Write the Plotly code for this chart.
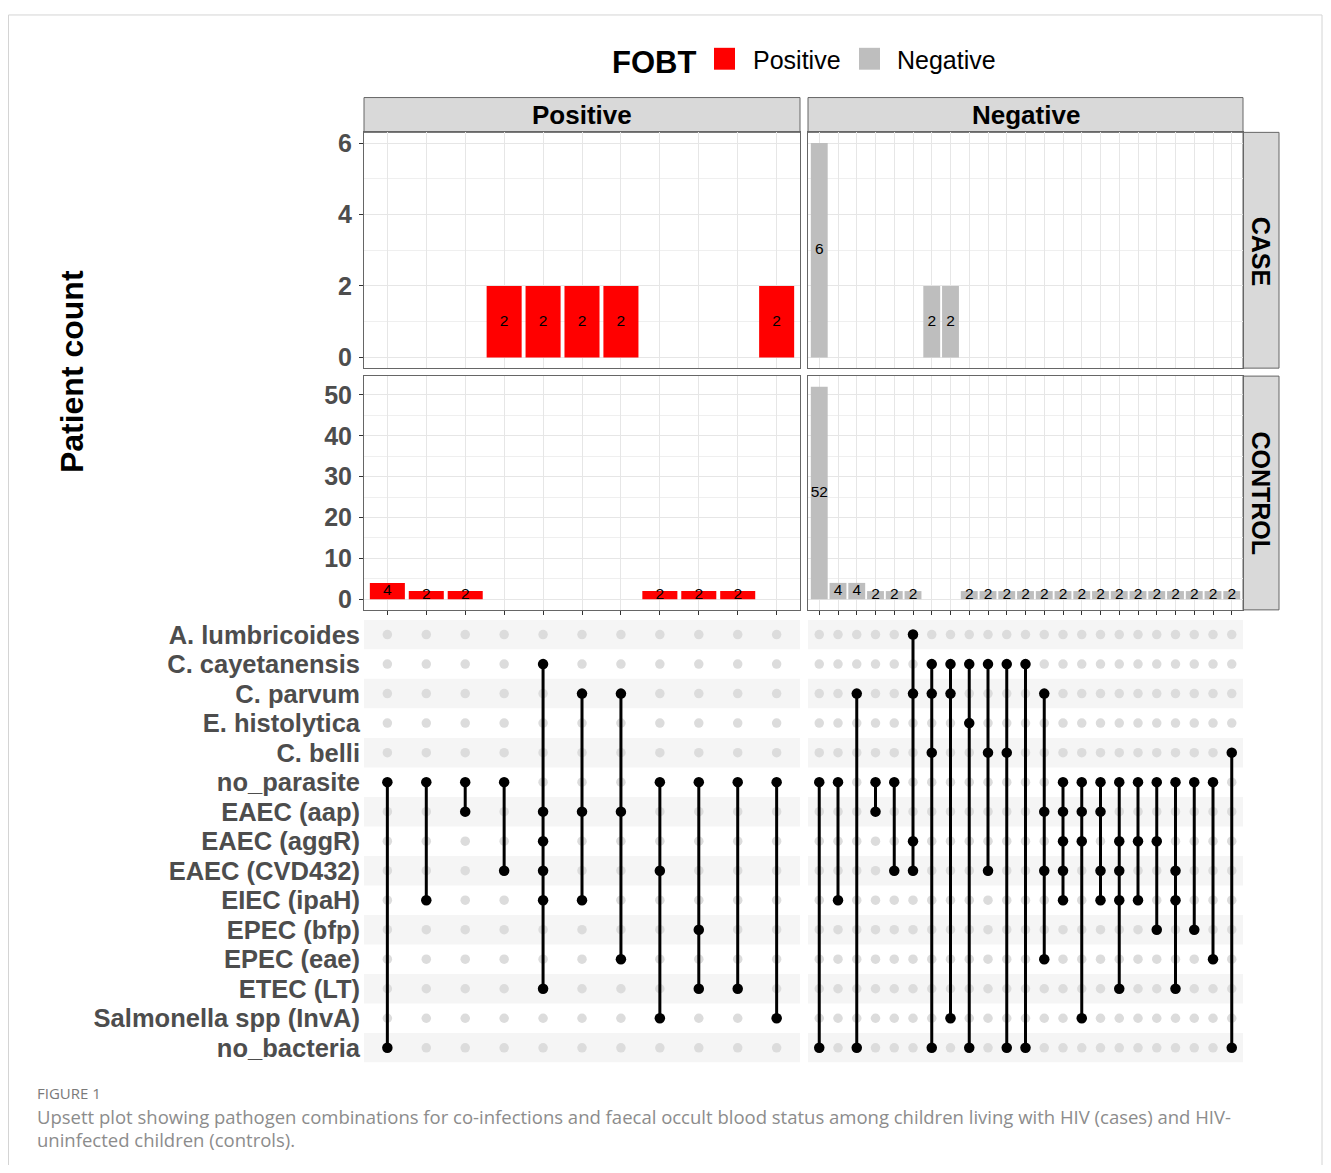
import plotly.graph_objects as go

# ---------------- data ----------------
sets = ["A. lumbricoides", "C. cayetanensis", "C. parvum", "E. histolytica", "C. belli",
        "no_parasite", "EAEC (aap)", "EAEC (aggR)", "EAEC (CVD432)", "EIEC (ipaH)",
        "EPEC (bfp)", "EPEC (eae)", "ETEC (LT)", "Salmonella spp (InvA)", "no_bacteria"]

# FOBT positive: intersections (left to right)
pos_combos = [
    ["no_parasite", "no_bacteria"],
    ["no_parasite", "EIEC (ipaH)"],
    ["no_parasite", "EAEC (aap)"],
    ["no_parasite", "EAEC (CVD432)"],
    ["C. cayetanensis", "EAEC (aap)", "EAEC (aggR)", "EAEC (CVD432)", "EIEC (ipaH)", "ETEC (LT)"],
    ["C. parvum", "EAEC (aap)", "EIEC (ipaH)"],
    ["C. parvum", "EAEC (aap)", "EPEC (eae)"],
    ["no_parasite", "EAEC (CVD432)", "Salmonella spp (InvA)"],
    ["no_parasite", "EPEC (bfp)", "ETEC (LT)"],
    ["no_parasite", "ETEC (LT)"],
    ["no_parasite", "Salmonella spp (InvA)"],
]
pos_case = [0, 0, 0, 2, 2, 2, 2, 0, 0, 0, 2]
pos_control = [4, 2, 2, 0, 0, 0, 0, 2, 2, 2, 0]

# FOBT negative: intersections (left to right)
neg_combos = [
    ["no_parasite", "no_bacteria"],
    ["no_parasite", "EIEC (ipaH)"],
    ["C. parvum", "no_bacteria"],
    ["no_parasite", "EAEC (aap)"],
    ["no_parasite", "EAEC (CVD432)"],
    ["A. lumbricoides", "C. parvum", "EAEC (aggR)", "EAEC (CVD432)"],
    ["C. cayetanensis", "C. parvum", "C. belli", "no_bacteria"],
    ["C. cayetanensis", "C. parvum", "Salmonella spp (InvA)"],
    ["C. cayetanensis", "E. histolytica", "no_bacteria"],
    ["C. cayetanensis", "C. belli", "EAEC (CVD432)"],
    ["C. cayetanensis", "C. belli", "no_bacteria"],
    ["C. cayetanensis", "no_bacteria"],
    ["C. parvum", "EAEC (aap)", "EAEC (CVD432)", "EPEC (eae)"],
    ["no_parasite", "EAEC (aap)", "EAEC (aggR)", "EAEC (CVD432)", "EIEC (ipaH)"],
    ["no_parasite", "EAEC (aap)", "EAEC (aggR)", "Salmonella spp (InvA)"],
    ["no_parasite", "EAEC (aap)", "EAEC (CVD432)", "EIEC (ipaH)"],
    ["no_parasite", "EAEC (aggR)", "EAEC (CVD432)", "EIEC (ipaH)", "ETEC (LT)"],
    ["no_parasite", "EAEC (aggR)", "EIEC (ipaH)"],
    ["no_parasite", "EAEC (aggR)", "EPEC (bfp)"],
    ["no_parasite", "EAEC (CVD432)", "EIEC (ipaH)", "ETEC (LT)"],
    ["no_parasite", "EPEC (bfp)"],
    ["no_parasite", "EPEC (eae)"],
    ["C. belli", "no_bacteria"],
]
neg_case = [6, 0, 0, 0, 0, 0, 2, 2] + [0] * 15
neg_control = [52, 4, 4, 2, 2, 2, 0, 0] + [2] * 15

fobt_levels = ["Positive", "Negative"]
group_levels = ["CASE", "CONTROL"]
case_ticks = [0, 2, 4, 6]
control_ticks = [0, 10, 20, 30, 40, 50]

# ---------------- styling / geometry ----------------
W, H, OFF = 1315, 1157, 8
FONT = "Liberation Sans"
RED, GREY = "#FF0000", "#BEBEBE"
BORDER = "#666666"
GRID = "#E6E6E6"
MINOR = "#EFEFEF"
TICKC = "#4D4D4D"


def fx(X):
    return (X - OFF) / W


def fy(Y):
    return 1 - (Y - OFF) / H


xdomP = [fx(364), fx(800)]
xdomN = [fx(808), fx(1243)]
ydom_case = [fy(367), fy(130)]
ydom_ctrl = [fy(610), fy(375)]
ydom_mat = [fy(1065), fy(620)]

fig = go.Figure()

panels = {
    # key: (xaxis id, yaxis id, combos, values, colour)
    "case_P": ("x", "y", pos_combos, pos_case, RED),
    "case_N": ("x2", "y2", neg_combos, neg_case, GREY),
    "ctrl_P": ("x3", "y3", pos_combos, pos_control, RED),
    "ctrl_N": ("x4", "y4", neg_combos, neg_control, GREY),
}

for key, (xa, ya, combos, vals, col) in panels.items():
    xs = list(range(len(combos)))
    fig.add_trace(go.Bar(x=xs, y=vals, width=0.9, marker=dict(color=col, line=dict(width=0)),
                         xaxis=xa, yaxis=ya, hoverinfo="skip", showlegend=False))
    tx = [i for i, v in enumerate(vals) if v > 0]
    ty = [vals[i] / 2 for i in tx]
    tt = [str(vals[i]) for i in tx]
    fig.add_trace(go.Scatter(x=tx, y=ty, text=tt, mode="text",
                             textfont=dict(family=FONT, size=15.5, color="black"),
                             xaxis=xa, yaxis=ya, hoverinfo="skip", showlegend=False))

# matrix panels
for xa, ya, combos in [("x5", "y5", pos_combos), ("x6", "y6", neg_combos)]:
    gx, gy = [], []
    for c in range(len(combos)):
        for r in range(len(sets)):
            gx.append(c)
            gy.append(r)
    fig.add_trace(go.Scatter(x=gx, y=gy, mode="markers",
                             marker=dict(size=9.5, color="#DCDCDC", line=dict(width=0)),
                             xaxis=xa, yaxis=ya, hoverinfo="skip", showlegend=False))
    lx, ly, bx, by = [], [], [], []
    for c, combo in enumerate(combos):
        rows = [sets.index(s) for s in combo]
        lx += [c, c, None]
        ly += [min(rows), max(rows), None]
        for r in rows:
            bx.append(c)
            by.append(r)
    fig.add_trace(go.Scatter(x=lx, y=ly, mode="lines", line=dict(color="black", width=3),
                             xaxis=xa, yaxis=ya, hoverinfo="skip", showlegend=False))
    fig.add_trace(go.Scatter(x=bx, y=by, mode="markers",
                             marker=dict(size=10.5, color="black", line=dict(width=0)),
                             xaxis=xa, yaxis=ya, hoverinfo="skip", showlegend=False))

nP, nN = len(pos_combos), len(neg_combos)


def bar_x(dom, n, anchor, ticks):
    return dict(domain=dom, anchor=anchor, range=[-0.6, n - 0.4], tickmode="array",
                tickvals=list(range(n)), showticklabels=False, showgrid=True,
                gridcolor=GRID, gridwidth=1.2, zeroline=False, showline=True, mirror=True,
                linecolor=BORDER, linewidth=1, ticks="outside" if ticks else "",
                ticklen=4, tickcolor="#333333", fixedrange=True)


def bar_y(dom, anchor, rng, tickvals, minor_dtick, labels):
    return dict(domain=dom, anchor=anchor, range=rng, tickmode="array", tickvals=tickvals,
                showticklabels=labels, showgrid=True, gridcolor=GRID, gridwidth=1.2,
                minor=dict(tickmode="array",
                           tickvals=[t + minor_dtick for t in tickvals[:-1]],
                           showgrid=True, gridcolor=MINOR, gridwidth=0.7, ticks=""),
                zeroline=False, showline=True, mirror=True, linecolor=BORDER, linewidth=1,
                ticks="outside" if labels else "", ticklen=4, tickcolor="#333333",
                ticklabelstandoff=2,
                tickfont=dict(family=FONT, size=25, color=TICKC, weight="bold"),
                fixedrange=True)


case_rng = [-0.3, 6.3]
ctrl_rng = [-2.6, 54.6]

layout_axes = dict(
    xaxis=bar_x(xdomP, nP, "y", False),
    yaxis=bar_y(ydom_case, "x", case_rng, case_ticks, 1, True),
    xaxis2=bar_x(xdomN, nN, "y2", False),
    yaxis2=bar_y(ydom_case, "x2", case_rng, case_ticks, 1, False),
    xaxis3=bar_x(xdomP, nP, "y3", True),
    yaxis3=bar_y(ydom_ctrl, "x3", ctrl_rng, control_ticks, 5, True),
    xaxis4=bar_x(xdomN, nN, "y4", True),
    yaxis4=bar_y(ydom_ctrl, "x4", ctrl_rng, control_ticks, 5, False),
    xaxis5=dict(domain=xdomP, anchor="y5", range=[-0.6, nP - 0.4], showgrid=False,
                zeroline=False, showticklabels=False, ticks="", fixedrange=True),
    yaxis5=dict(domain=ydom_mat, anchor="x5", range=[len(sets) - 0.5, -0.5], tickmode="array",
                tickvals=list(range(len(sets))), ticktext=sets, showgrid=False, zeroline=False,
                ticks="", ticklabelstandoff=3,
                tickfont=dict(family=FONT, size=25.5, color=TICKC, weight="bold"),
                fixedrange=True),
    xaxis6=dict(domain=xdomN, anchor="y6", range=[-0.6, nN - 0.4], showgrid=False,
                zeroline=False, showticklabels=False, ticks="", fixedrange=True),
    yaxis6=dict(domain=ydom_mat, anchor="x6", range=[len(sets) - 0.5, -0.5], showgrid=False,
                zeroline=False, showticklabels=False, ticks="", fixedrange=True),
)

shapes = []
# matrix stripes
for xr in ["x5 domain", "x6 domain"]:
    yr = "y5" if xr.startswith("x5") else "y6"
    for r in range(0, len(sets), 2):
        shapes.append(dict(type="rect", xref=xr, yref=yr, x0=0, x1=1, y0=r - 0.5, y1=r + 0.5,
                           fillcolor="#F5F5F5", line=dict(width=0), layer="below"))

# facet strips
strip = dict(type="rect", xref="paper", yref="paper", fillcolor="#D9D9D9",
             line=dict(color=BORDER, width=1), layer="below")
for (x0, x1) in [(364, 800), (808, 1243)]:
    shapes.append(dict(strip, x0=fx(x0), x1=fx(x1), y0=fy(130), y1=fy(95)))
for (y0, y1) in [(130, 367), (375, 610)]:
    shapes.append(dict(strip, x0=fx(1243), x1=fx(1279), y0=fy(y1), y1=fy(y0)))

# legend keys
shapes.append(dict(type="rect", xref="paper", yref="paper", x0=fx(714), x1=fx(735),
                   y0=fy(67), y1=fy(45), fillcolor=RED, line=dict(width=0)))
shapes.append(dict(type="rect", xref="paper", yref="paper", x0=fx(859), x1=fx(880),
                   y0=fy(67), y1=fy(45), fillcolor=GREY, line=dict(width=0)))

# outer figure frame
shapes.append(dict(type="rect", xref="paper", yref="paper", x0=fx(8.5), x1=fx(1322),
                   y0=fy(1200), y1=fy(12), line=dict(color="#D4D4D4", width=1),
                   fillcolor="rgba(0,0,0,0)", layer="below"))

annotations = []


def ann(text, X, Y, size, bold=False, color="black", angle=0, xanchor="center", family=FONT):
    annotations.append(dict(text=text, x=fx(X), y=fy(Y), xref="paper", yref="paper",
                            showarrow=False, textangle=angle, xanchor=xanchor, yanchor="middle",
                            font=dict(family=family, size=size, color=color,
                                      weight="bold" if bold else "normal")))


ann(fobt_levels[0], 582, 113, 26, bold=True)
ann(fobt_levels[1], 1026, 113, 26, bold=True)
ann(group_levels[0], 1261, 249, 25, bold=True, angle=90)
ann(group_levels[1], 1261, 493, 25, bold=True, angle=90)
ann("Patient count", 72, 370, 32, bold=True, angle=-90)
ann("FOBT", 654, 60, 31, bold=True)
ann(fobt_levels[0], 751, 57, 25, xanchor="left")
ann(fobt_levels[1], 895, 57, 25, xanchor="left")
ann("FIGURE 1", 35, 1096, 15, color="#7A7A7A", xanchor="left", family="Open Sans")
ann("Upsett plot showing pathogen combinations for co-infections and faecal occult blood status "
    "among children living with HIV (cases) and HIV-", 35, 1119, 18.5, color="#8C8C8C",
    xanchor="left", family="Open Sans")
ann("uninfected children (controls).", 35, 1142, 18.5, color="#8C8C8C", xanchor="left",
    family="Open Sans")

fig.update_layout(
    width=W, height=H, margin=dict(l=0, r=0, t=0, b=0),
    plot_bgcolor="white", paper_bgcolor="white", showlegend=False,
    shapes=shapes, annotations=annotations, barmode="overlay",
    font=dict(family=FONT),
    **layout_axes,
)

fig.write_html("out.html")
